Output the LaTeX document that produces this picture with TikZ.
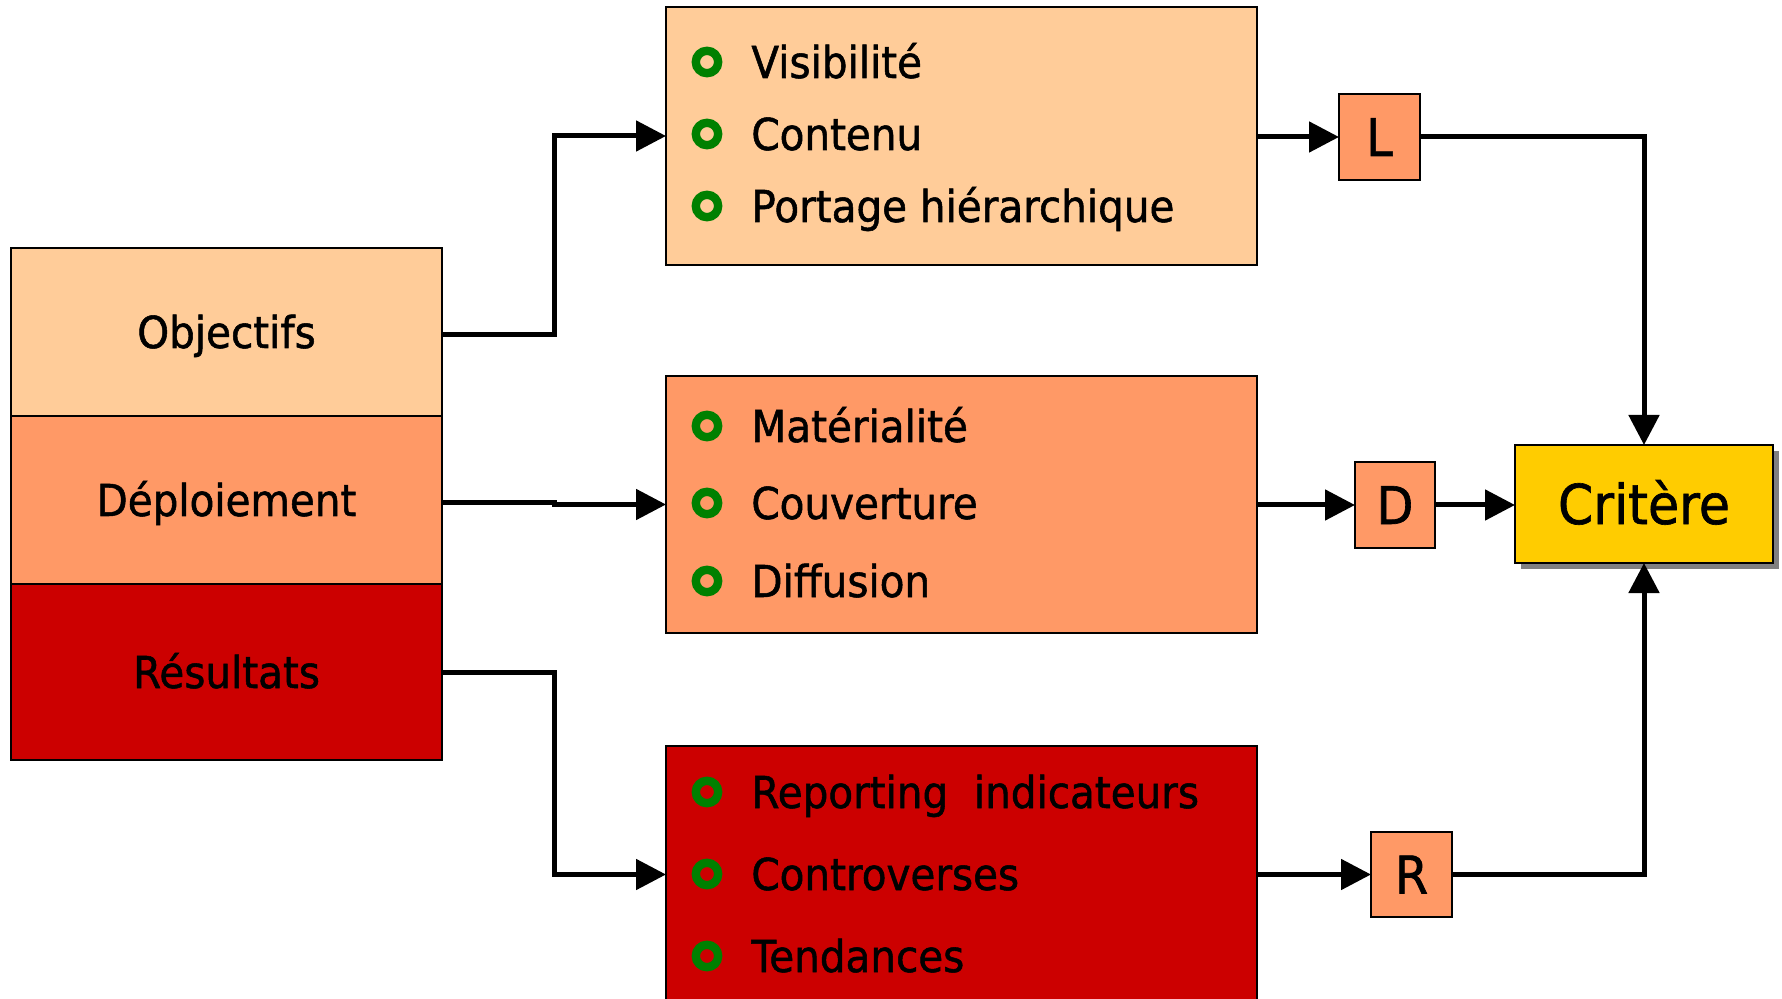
\documentclass[tikz,border=0pt]{standalone}
\usepackage{fontspec}
\setmainfont{DejaVu Sans}[FakeStretch=0.92,FakeBold=1.2]
\usetikzlibrary{arrows.meta,shadows}
\definecolor{peach}{HTML}{FFCC99}
\definecolor{salmon}{HTML}{FF9966}
\definecolor{deepred}{HTML}{CC0000}
\definecolor{gold}{HTML}{FFCC00}
\definecolor{bulletgreen}{HTML}{008000}
\definecolor{shadowgray}{HTML}{808080}
\begin{document}
\begin{tikzpicture}[x=0.5pt,y=-0.5pt,
  box/.style={draw=black, line width=1.1pt, inner sep=0pt, outer sep=0pt},
  lbl/.style={font=\fontsize{22}{26}\selectfont, text height=16pt, text depth=0pt},
  letter/.style={box, fill=salmon, minimum width=40.5pt, minimum height=43pt,
    font=\fontsize{26}{30}\selectfont, text height=19pt, text depth=0pt},
  item/.style={anchor=base west, inner sep=0pt, font=\fontsize{22}{26}\selectfont},
  bul/.style={circle, draw=bulletgreen, line width=4.2pt, minimum size=11.2pt, inner sep=0pt},
  conn/.style={line width=2.5pt, -{Triangle[length=15pt,width=15pt]}}
]
\clip (0,0) rectangle (1782,999);
\fill[white] (0,0) rectangle (1782,999);

% left stack
\node[box, lbl, fill=peach, minimum width=215.5pt, minimum height=84pt] (obj) at (226.5,332) {Objectifs};
\node[box, lbl, fill=salmon, minimum width=215.5pt, minimum height=84pt] (dep) at (226.5,500) {Déploiement};
\node[box, lbl, fill=deepred, minimum width=215.5pt, minimum height=88pt] (res) at (226.5,672) {Résultats};

% middle boxes
\node[box, fill=peach, minimum width=295.5pt, minimum height=129pt] (b1) at (961.5,136) {};
\node[box, fill=salmon, minimum width=295.5pt, minimum height=128.5pt] (b2) at (961.5,504.5) {};
\node[box, fill=deepred, minimum width=295.5pt, minimum height=132pt] (b3) at (961.5,878) {};

% items box 1
\node[bul] (v1b) at (707,62) {};
\node[item] (v1) at (751,78) {Visibilité};
\node[bul] (v2b) at (707,134) {};
\node[item] (v2) at (751,150) {Contenu};
\node[bul] (v3b) at (707,206) {};
\node[item] (v3) at (751,222) {Portage hiérarchique};

% items box 2
\node[bul] (m1b) at (707,426) {};
\node[item] (m1) at (751,442) {Matérialité};
\node[bul] (m2b) at (707,503) {};
\node[item] (m2) at (751,519) {Couverture};
\node[bul] (m3b) at (707,581) {};
\node[item] (m3) at (751,597) {Diffusion};

% items box 3
\node[bul] (r1b) at (707,792) {};
\node[item] (r1) at (751,808) {Reporting\ \ indicateurs};
\node[bul] (r2b) at (707,874) {};
\node[item] (r2) at (751,890) {Controverses};
\node[bul] (r3b) at (707,956) {};
\node[item] (r3) at (751,972) {Tendances};

% letter boxes
\node[letter] (L) at (1379.5,137) {L};
\node[letter, minimum width=40pt] (D) at (1395,505) {D};
\node[letter, minimum height=42.5pt] (R) at (1411.5,874.5) {R};

% criterion
\node[box, fill=gold, minimum width=129pt, minimum height=59pt,
  font=\fontsize{27.5}{32}\selectfont, text height=20pt, text depth=0pt,
  drop shadow={shadow xshift=3pt, shadow yshift=-3pt, fill=shadowgray, opacity=1}] (Cr) at (1644,504) {Critère};

% connectors
\draw[conn] ([yshift=-1.5pt]obj.east) -- ++(56pt,0) |- (b1.west);
\draw[conn] ([yshift=-1.2pt]dep.east) -- ++(56pt,0) |- (b2.west);
\draw[conn] (res.east) -- ++(56pt,0) |- (b3.west |- R.west);
\draw[conn] (b1.east |- L.west) -- (L.west);
\draw[conn] (b2.east |- D.west) -- (D.west);
\draw[conn] (b3.east |- R.west) -- (R.west);
\draw[conn] (D.east) -- (Cr.west |- D.east);
\draw[conn] (L.east) -| (Cr.north);
\draw[conn] (R.east) -| (Cr.south);
\end{tikzpicture}
\end{document}
